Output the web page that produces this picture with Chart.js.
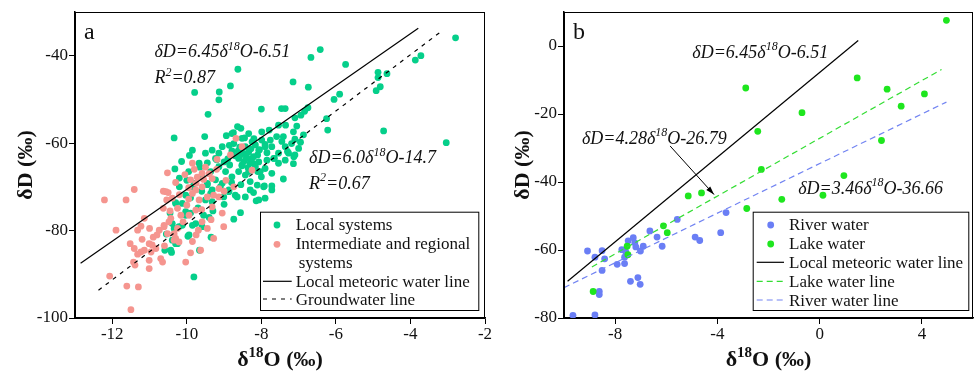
<!DOCTYPE html>
<html>
<head>
<meta charset="utf-8">
<script src="https://cdn.jsdelivr.net/npm/chart.js@4.4.1/dist/chart.umd.min.js"></script>
<style>
  body { margin: 0; background: #fff; }
  #wrap { position: relative; width: 974px; height: 371px; }
  canvas { position: absolute; top: 0; }
  #chartA { left: 0; }
  #chartB { left: 490px; }
</style>
</head>
<body>
<div id="wrap">
  <canvas id="chartA" width="500" height="371"></canvas>
  <canvas id="chartB" width="484" height="371"></canvas>
</div>
<script>
// Panel a - local systems (green)
const localO18 = [-2.79, -3.72, -3.87, -6.42, -6.67, -5.74, -4.87, -4.63, -4.87, -4.81, -4.92, -8.63, -7.15, -6.74, -8.83,
  -9.13, -9.79, -9.14, -6.05, -5.9, -9.43, -8.0, -7.46, -7.36, -6.75, -6.84, -6.94, -7.1, -6.25, -6.22, -4.72, -3.04,
  -10.34, -9.52, -8.94, -9.93, -10.14, -10.32, -7.14, -7.13, -7.41, -7.92, -7.72, -8.14, -8.21, -8.56, -8.74, -9.81,
  -9.66, -9.35, -9.97, -10.41, -10.59, -8.64, -8.55, -8.34, -7.99, -7.79, -7.54, -7.35, -7.05, -7.14, -6.87, -7.1,
  -8.74, -8.86, -8.79, -8.62, -8.49, -8.43, -8.34, -8.16, -7.99, -7.76, -7.59, -7.72, -7.54, -7.36, -7.19, -7.1,
  -7.54, -7.9, -7.72, -8.0, -7.94, -8.11, -8.3, -8.43, -8.61, -8.79, -8.96, -9.14, -9.36, -9.59, -8.87, -9.23,
  -8.61, -8.47, -8.3, -8.4, -9.14, -9.32, -9.5, -9.85, -8.07, -7.9, -7.72, -8.3, -9.01, -9.32, -8.25, -8.18,
  -8.36, -8.52, -8.1, -8.28, -8.58, -8.7, -8.9, -8.05, -7.85, -7.65, -7.3, -7.0, -6.95, -7.45, -7.9, -8.2,
  -8.45, -8.75, -8.1, -8.85, -9.0, -9.2, -9.45, -9.65, -9.8, -9.45, -9.1, -9.6, -9.9, -10.03, -10.3, -10.12,
  -10.03, -9.5, -9.32, -8.87, -8.7, -10.39, -10.21, -10.12, -9.76, -9.59, -9.94, -10.39, -10.25, -10.43, -10.03,
  -9.85, -10.34, -9.36, -10.3, -10.3, -10.45, -10.2, -10.0, -9.7, -9.55, -9.9, -9.4, -10.55, -9.3, -9.0, -8.8,
  -8.55, -9.95, -10.2,
  -8.56, -8.39, -8.21, -8.07, -8.52, -8.16, -8.34, -8.03, -7.85, -7.67, -7.36, -7.27, -7.41, -7.9, -8.07, -8.25,
  -8.52, -8.79, -9.05, -9.23, -9.67, -9.45, -9.85, -9.05, -8.65, -8.43];
const localD = [-35.9, -40, -41, -38.6, -40.4, -42, -43.8, -44.1, -45, -47.1, -48, -43.1, -46, -47.2, -46.9,
  -48.3, -48.4, -50.1, -50, -48.8, -53.4, -52.2, -52.1, -52.1, -51.9, -52.7, -53.6, -54.2, -54.4, -57, -57.2, -59.9,
  -58.8, -58.5, -58.3, -62.8, -64.2, -65.9, -64.7, -63.1, -68.2, -69.8, -69.8, -73.2, -71.3, -75.9, -77.4, -90.6,
  -84.5, -81.5, -81.3, -85, -84.5, -56.2, -56.6, -57.8, -57.4, -57, -55.9, -55.9, -56.1, -57.4, -58.1, -59.1,
  -60.1, -60.5, -61.8, -61.8, -62.3, -60.8, -62, -60.4, -59.3, -59.3, -58.5, -60.8, -62.3, -60.8, -60.1, -62.7,
  -64.6, -65.8, -66.9, -67.7, -70, -69.6, -68.8, -67.3, -66.5, -67.7, -66.5, -65.4, -66.5, -67.7, -70.7, -68.4,
  -63.5, -64.2, -64.6, -63.2, -62.3, -61.6, -62.3, -61.6, -73, -72.6, -70.7, -70.7, -72.3, -70.7, -63.5, -64.8,
  -65.6, -65.2, -62.7, -61.3, -60.9, -62.9, -63.6, -61.5, -62.2, -63.5, -61.9, -61.2, -59.8, -59.6, -60.3, -59.0,
  -58.8, -57.6, -66.5, -65, -64.3, -63.8, -64.5, -65.5, -69.2, -69.5, -70.0, -71.0, -72.5, -71.9, -73.8, -73.8,
  -75.7, -73, -73.4, -71.1, -71.9, -78.4, -79.1, -78.8, -78.4, -79.1, -81.0, -82.2, -83, -84.5, -76.5,
  -78.8, -79.5, -71.5, -73.6, -83, -76.0, -70.0, -68.5, -74.8, -76.5, -76.0, -77.0, -80.8, -75.5, -74.0, -69.0,
  -69.5, -66.5, -68.0,
  -62.7, -63.5, -63.1, -64.3, -65.0, -65.4, -66.5, -66.5, -63.9, -63.5, -63.9, -62.3, -58.5, -60.8, -61.6, -59.7,
  -58.9, -57.8, -60.8, -63.5, -64.6, -69.2, -70.0, -69.2, -72.3, -72.3];

// Panel a - intermediate and regional systems (pink)
const regionalO18 = [-8.68, -8.52, -8.83, -9.19, -9.85, -8.25, -9.72, -9.59, -9.9, -9.32, -9.14, -8.74, -9.59, -9.76,
  -9.45, -9.14, -9.67, -9.32, -10.0, -10.2, -10.56, -10.39, -9.85, -9.6, -9.28, -9.76, -9.94, -10.43, -10.61, -10.74,
  -10.52, -10.3, -10.21, -11.01, -10.83, -11.01, -10.65, -11.01, -10.03, -9.9, -9.63, -9.69, -9.28, -9.01, -9.59,
  -10.25, -12.21, -11.63, -11.41, -11.9, -11.14, -11.32, -11.23, -11.52, -11.41, -11.23, -11.14, -11.32, -10.93,
  -10.96, -11.43, -11.39, -10.7, -12.07, -11.61, -11.3, -11.5, -10.63, -10.5, -10.54, -10.63, -10.52, -10.61, -10.34,
  -10.34, -10.48, -10.25, -10.16, -9.75, -9.55, -9.95, -9.4, -9.0, -9.2, -8.95, -9.05, -9.35, -10.9,
  -9.8, -10.05, -9.5, -10.3, -9.95, -10.45, -10.1, -10.8, -11.0, -10.6, -11.2, -9.85, -9.45, -9.75];
const regionalD = [-58.9, -60.8, -62.7, -63.7, -64.6, -66.2, -67.8, -66.9, -68.4, -68.1, -70.4, -70, -70, -70.7,
  -72.3, -72.3, -73, -74.6, -74.2, -71.8, -71.1, -72.6, -71.5, -75.2, -71.9, -75.3, -76.5, -77.2, -78.8, -79.9,
  -80.7, -81.8, -82.6, -83, -84.1, -86.8, -87.2, -88.7, -87.2, -85.1, -84.5, -79.9, -81.8, -79.1, -78,
  -79.5, -73.0, -73, -70.6, -79.9, -77.2, -79.9, -79, -83, -84.1, -84.9, -84.5, -85.4, -83.3,
  -84.9, -87.2, -87.9, -86.4, -90.4, -92.7, -92.9, -98.1, -71, -71.3, -73, -74.9, -66.8, -79.1, -80.7,
  -82.2, -78, -74.9, -76.5, -69.2, -68.3, -70.2, -67.0, -71.0, -66.0, -68.5, -76.0, -77.5, -81.5,
  -66.0, -67.2, -65.5, -69.0, -72.8, -75.5, -78.0, -81.0, -79.5, -83.5, -82.0, -82.5, -79.5, -81.0];

// Panel a - fitted lines (end points)
const lmwlAO18 = [-12.85, -3.79];
const lmwlAD = [-87.5, -33.7];
const gwlO18 = [-12.37, -3.12];
const gwlD = [-93.65, -34.1];

// Panel b - river water (blue)
const riverO18 = [-9.65, -8.79, -9.08, -8.79, -8.51, -8.41, -8.51, -8.62, -8.62, -7.92, -7.74, -7.63, -7.63, -7.49,
  -7.29, -7.23, -7.19, -6.9, -7.01, -7.4, -7.11, -7.02, -6.64, -6.36, -6.16, -5.57, -4.87, -4.69, -3.87, -3.66, -7.58];
const riverD = [-79.2, -79.1, -60.3, -62.1, -60.2, -62.6, -66, -72.2, -73.1, -64.2, -59.9, -62.1, -64, -57.3,
  -56.4, -57.9, -59.1, -58.9, -60.3, -69.2, -68.1, -70.1, -54.4, -56.2, -58.9, -51, -56.2, -57.2, -54.9, -49, -60.6];

// Panel b - lake water (green)
const lakeO18 = [4.96, -2.89, 1.47, 2.64, 4.1, 3.19, -0.69, -2.42, 2.42, -2.28, 0.95, 0.13, -1.48, -2.85, -5.14,
  -4.62, -6.11, -5.96, -7.53, -7.5, -8.86];
const lakeD = [7.55, -12.35, -9.4, -12.7, -14.1, -17.7, -19.6, -25.1, -27.8, -36.3, -38.1, -43.9, -45.1, -47.8, -44.1,
  -43.2, -52.9, -54.9, -58.9, -61.4, -72.2];

// Panel b - lines
const lmwlBO18 = [-9.86, 1.51];
const lmwlBD = [-69.2, 1.6];
const lakeLineO18 = [-8.91, 4.77];
const lakeLineD = [-65, -6.9];
const riverLineO18 = [-10, 4.96];
const riverLineD = [-71.06, -16.5];

// Ticks
const xTicksA = [-12, -10, -8, -6, -4, -2];
const yTicksA = [-100, -80, -60, -40];
const xTicksB = [-8, -4, 0, 4];
const yTicksB = [-80, -60, -40, -20, 0];

const SERIF = '"Liberation Serif", "Times New Roman", serif';
Chart.defaults.font.family = SERIF;
Chart.defaults.color = '#111';

function pts(xs, ys) {
  return xs.map((x, i) => ({ x: x, y: ys[i] }));
}

// text with ^{..} superscripts
function drawRich(ctx, str, x, y, size, pre, align) {
  const parts = str.split(/\^\{|\}/);
  const supSize = Math.round(size * 0.66);
  let widths = parts.map((p, i) => {
    ctx.font = pre + ' ' + (i % 2 ? supSize : size) + 'px ' + SERIF;
    return ctx.measureText(p).width;
  });
  let total = widths.reduce((a, b) => a + b, 0);
  let cx = align === 'center' ? x - total / 2 : x;
  parts.forEach((p, i) => {
    ctx.font = pre + ' ' + (i % 2 ? supSize : size) + 'px ' + SERIF;
    ctx.fillText(p, cx, i % 2 ? y - size * 0.4 : y);
    cx += widths[i];
  });
}

const decor = {
  id: 'decor',
  afterDraw(chart, args, o) {
    const ctx = chart.ctx;
    const a = chart.chartArea;
    const xs = chart.scales.x, ys = chart.scales.y;
    ctx.save();
    // frame
    ctx.strokeStyle = '#000';
    ctx.lineWidth = 1;
    ctx.strokeRect(a.left + 0.5, a.top + 0.5, a.right - a.left - 1, a.bottom - a.top);
    ctx.fillStyle = '#111';
    ctx.textAlign = 'left';
    ctx.textBaseline = 'alphabetic';
    // panel letter
    ctx.font = '24px ' + SERIF;
    ctx.fillText(o.letter, a.left + 9, 39);
    // equations
    o.notes.forEach(n => {
      drawRich(ctx, n.text, xs.getPixelForValue(n.x), ys.getPixelForValue(n.y), 18, 'italic', 'left');
    });
    // arrow
    if (o.arrow) {
      const x1 = xs.getPixelForValue(o.arrow[0]), y1 = ys.getPixelForValue(o.arrow[1]);
      const x2 = xs.getPixelForValue(o.arrow[2]), y2 = ys.getPixelForValue(o.arrow[3]);
      ctx.strokeStyle = '#000';
      ctx.lineWidth = 1;
      ctx.beginPath();
      ctx.moveTo(x1, y1);
      ctx.lineTo(x2, y2);
      ctx.stroke();
      const ang = Math.atan2(y2 - y1, x2 - x1);
      ctx.beginPath();
      ctx.moveTo(x2, y2);
      ctx.lineTo(x2 - 9 * Math.cos(ang - 0.3), y2 - 9 * Math.sin(ang - 0.3));
      ctx.lineTo(x2 - 9 * Math.cos(ang + 0.3), y2 - 9 * Math.sin(ang + 0.3));
      ctx.closePath();
      ctx.fillStyle = '#000';
      ctx.fill();
    }
    // legend
    const L = o.legend;
    ctx.strokeStyle = '#000';
    ctx.lineWidth = 1;
    ctx.strokeRect(L.box[0] + 0.5, L.box[1] + 0.5, L.box[2] - L.box[0], L.box[3] - L.box[1]);
    L.items.forEach(it => {
      if (it.kind === 'dot') {
        ctx.fillStyle = it.color;
        ctx.beginPath();
        ctx.arc(L.mark, it.y - 5, 3.4, 0, Math.PI * 2);
        ctx.fill();
      } else if (it.kind === 'line') {
        ctx.strokeStyle = it.color;
        ctx.lineWidth = 1.2;
        ctx.setLineDash(it.dash || []);
        ctx.beginPath();
        ctx.moveTo(L.line[0], it.y - 6);
        ctx.lineTo(L.line[1], it.y - 6);
        ctx.stroke();
        ctx.setLineDash([]);
      }
      ctx.fillStyle = '#111';
      ctx.font = '17px ' + SERIF;
      ctx.fillText(it.text, L.text + (it.indent || 0), it.y);
    });
    // axis titles
    ctx.fillStyle = '#111';
    drawRich(ctx, 'δ^{18}O (‰)', (a.left + a.right) / 2, 366, 22, 'bold', 'center');
    ctx.save();
    ctx.translate(o.yTitleX, (a.top + a.bottom) / 2);
    ctx.rotate(-Math.PI / 2);
    drawRich(ctx, 'δD (‰)', 0, 0, 22, 'bold', 'center');
    ctx.restore();
    ctx.restore();
  }
};

function axes(xmin, xmax, xt, ymin, ymax, yt, yw) {
  const common = {
    type: 'linear',
    grid: { drawOnChartArea: false, tickLength: 6, color: '#000' },
    border: { color: '#000', width: 1.5 },
  };
  return {
    x: Object.assign({}, common, {
      min: xmin, max: xmax,
      afterBuildTicks: s => { s.ticks = xt.map(v => ({ value: v })); },
      afterFit: s => { s.height = 53; },
      ticks: { font: { size: 17 }, padding: 0, color: '#111', callback: v => String(v) }
    }),
    y: Object.assign({}, common, {
      min: ymin, max: ymax,
      afterBuildTicks: s => { s.ticks = yt.map(v => ({ value: v })); },
      afterFit: s => { s.width = yw; },
      ticks: { font: { size: 17 }, padding: 1, color: '#111', callback: v => String(v) }
    })
  };
}

function dots(xs, ys, color) {
  return { data: pts(xs, ys), backgroundColor: color, borderWidth: 0, pointRadius: 3.4, order: 2, clip: false };
}
function line(xs, ys, color, dash) {
  return { data: pts(xs, ys), showLine: true, borderColor: color, borderWidth: 1.2, borderDash: dash,
    pointRadius: 0, order: 0 };
}

new Chart(document.getElementById('chartA'), {
  type: 'scatter',
  data: {
    datasets: [
      line(lmwlAO18, lmwlAD, '#000', []),
      line(gwlO18, gwlD, '#000', [4, 5]),
      Object.assign(dots(regionalO18, regionalD, '#F5958F'), { order: 1 }),
      dots(localO18, localD, '#05CF8A')
    ]
  },
  options: {
    responsive: false,
    animation: false,
    devicePixelRatio: 1,
    layout: { padding: { left: 0, right: 15, top: 12, bottom: 0 }, autoPadding: false },
    scales: axes(-13, -2, xTicksA, -100, -30, yTicksA, 75),
    plugins: {
      legend: { display: false },
      tooltip: { enabled: false },
      decor: {
        letter: 'a',
        yTitleX: 32,
        notes: [
          { text: 'δD=6.45δ^{18}O-6.51', x: -10.87, y: -40.4 },
          { text: 'R^{2}=0.87', x: -10.87, y: -46.2 },
          { text: 'δD=6.0δ^{18}O-14.7', x: -6.72, y: -64.5 },
          { text: 'R^{2}=0.67', x: -6.72, y: -70.4 }
        ],
        legend: {
          box: [260, 211.7, 478.3, 310], mark: 277, line: [263, 291.7], text: 295.7,
          items: [
            { kind: 'dot', color: '#05CF8A', text: 'Local systems', y: 230 },
            { kind: 'dot', color: '#F5958F', text: 'Intermediate and regional', y: 249.3 },
            { kind: 'none', text: 'systems', y: 268.3, indent: 3 },
            { kind: 'line', color: '#000', text: 'Local meteoric water line', y: 287.3 },
            { kind: 'line', color: '#000', dash: [4, 5], text: 'Groundwater line', y: 305 }
          ]
        }
      }
    }
  },
  plugins: [decor]
});

new Chart(document.getElementById('chartB'), {
  type: 'scatter',
  data: {
    datasets: [
      line(lmwlBO18, lmwlBD, '#000', []),
      line(lakeLineO18, lakeLineD, '#33DD33', [6, 4]),
      line(riverLineO18, riverLineD, '#7284F2', [6, 4]),
      Object.assign(dots(lakeO18, lakeD, '#1EE61E'), { order: 1 }),
      dots(riverO18, riverD, '#6A7EF5')
    ]
  },
  options: {
    responsive: false,
    animation: false,
    devicePixelRatio: 1,
    layout: { padding: { left: 0, right: 1, top: 12, bottom: 0 }, autoPadding: false },
    scales: axes(-10, 6, xTicksB, -80, 10, yTicksB, 74),
    plugins: {
      legend: { display: false },
      tooltip: { enabled: false },
      decor: {
        letter: 'b',
        yTitleX: 39,
        notes: [
          { text: 'δD=6.45δ^{18}O-6.51', x: -4.98, y: -3.4 },
          { text: 'δD=4.28δ^{18}O-26.79', x: -9.3, y: -28.7 },
          { text: 'δD=3.46δ^{18}O-36.66', x: -0.84, y: -43.4 }
        ],
        arrow: [-5.85, -29.4, -4.13, -43.7],
        legend: {
          box: [262.7, 211.7, 478.3, 310], mark: 280.7, line: [266.7, 294], text: 299,
          items: [
            { kind: 'dot', color: '#6A7EF5', text: 'River water', y: 230 },
            { kind: 'dot', color: '#1EE61E', text: 'Lake water', y: 249 },
            { kind: 'line', color: '#000', text: 'Local meteoric water line', y: 268.3 },
            { kind: 'line', color: '#33DD33', dash: [6, 4], text: 'Lake water line', y: 287.3 },
            { kind: 'line', color: '#7284F2', dash: [6, 4], text: 'River water line', y: 306 }
          ]
        }
      }
    }
  },
  plugins: [decor]
});
</script>
</body>
</html>
